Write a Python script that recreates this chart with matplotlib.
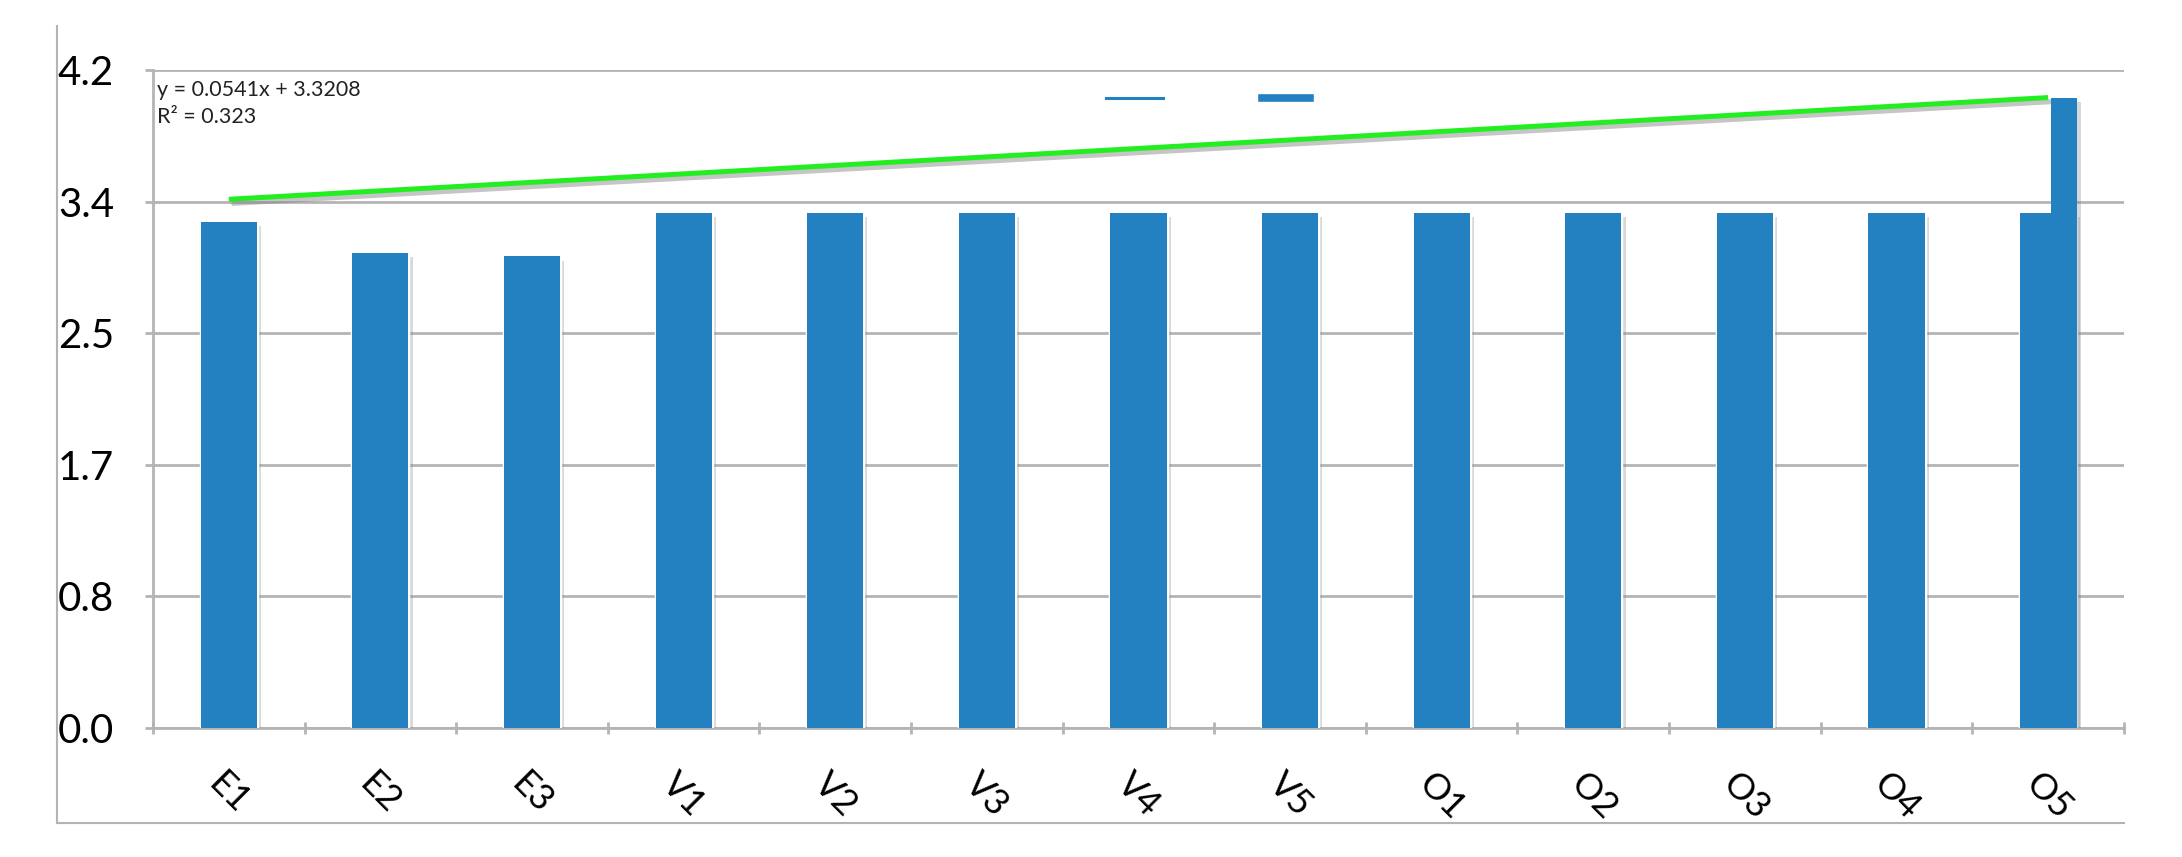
import matplotlib
matplotlib.use("Agg")
import matplotlib.pyplot as plt
import matplotlib.patheffects as pe
from matplotlib.lines import Line2D
from matplotlib.patches import Patch
import numpy as np

plt.rcParams['font.family'] = ['Lato', 'DejaVu Sans']

# datos
categorias = ["E1", "E2", "E3", "V1", "V2", "V3", "V4", "V5", "O1", "O2", "O3", "O4", "O5"]
valores = [3.23, 3.03, 3.01, 3.29, 3.29, 3.29, 3.29, 3.29, 3.29, 3.29, 3.29, 3.29, 3.29]
categorias_b = ["O5"]
valores_b = [4.02]

# linea de tendencia (de la etiqueta del grafico)
pendiente = 0.0541
intercepto = 3.3208
r2 = 0.323

y_ticks = [0.0, 0.84, 1.68, 2.52, 3.36, 4.2]

azul = "#2481C1"
verde = "#22EE22"
gris = "#B4B4B4"

fig = plt.figure(figsize=(21.82, 8.57), dpi=100)
ax = fig.add_axes([0.0701, 0.1505, 0.9033, 0.7678])

x = np.arange(len(categorias))
sombra = [pe.SimplePatchShadow(offset=(3, -3), shadow_rgbFace="gray", alpha=0.3),
          pe.Stroke(linewidth=2.5, foreground="white"), pe.Normal()]

ax.bar(x, valores, width=0.37, color=azul, zorder=3, path_effects=sombra)

xb = [categorias.index(c) + 0.02 for c in categorias_b]
ax.bar(xb, valores_b, width=0.168, align="edge", color=azul, zorder=4,
       path_effects=[pe.SimplePatchShadow(offset=(3, -3), shadow_rgbFace="gray", alpha=0.3),
                     pe.Normal()])

# tendencia
xt = np.array([1, len(categorias)])
yt = pendiente * xt + intercepto
ax.plot(xt - 1, yt, color=verde, lw=3.6, zorder=5, solid_capstyle="butt",
        path_effects=[pe.SimpleLineShadow(offset=(2, -3), shadow_color="gray", alpha=0.45),
                      pe.Normal()])

ax.text(0.002, 0.985, f"y = {pendiente}x + {intercepto}\nR² = {r2}", transform=ax.transAxes,
        ha="left", va="top", fontsize=15.5, linespacing=1.45, color="#222222", zorder=6)

ax.set_xlim(-0.5, len(categorias) - 0.5)
ax.set_ylim(0, 4.2)
ax.set_yticks(y_ticks)
ax.set_yticklabels([f"{v:.1f}" for v in y_ticks], fontsize=29)
ax.yaxis.grid(True, color=gris, lw=2, zorder=0)
ax.tick_params(axis="y", length=6, width=2, color=gris, pad=22)

ax.set_xticks(x)
ax.set_xticklabels(categorias, rotation=-45, fontsize=26)
ax.set_xticks(np.arange(len(categorias) + 1) - 0.5, minor=True)
ax.tick_params(axis="x", which="major", length=0, pad=28)
ax.tick_params(axis="x", which="minor", length=8, width=2, color=gris, direction="inout")

for lado in ["top", "right"]:
    ax.spines[lado].set_visible(False)
for lado in ["left", "bottom"]:
    ax.spines[lado].set_color(gris)
    ax.spines[lado].set_linewidth(2)

# leyenda sin etiquetas
manijas = [Line2D([0], [0], color=azul, lw=2.2), Patch(facecolor=azul, edgecolor="white")]
ax.legend(manijas, ["", ""], ncol=2, loc="upper center", bbox_to_anchor=(0.539, 0.985),
          frameon=False, fontsize=10, handlelength=4.1, handletextpad=0.8, columnspacing=6.0)

# marco exterior
fig.add_artist(Line2D([57 / 2182, 57 / 2182], [1 - 26 / 857, 1 - 823 / 857], color=gris, lw=1.5))
fig.add_artist(Line2D([57 / 2182, 2124 / 2182], [1 - 823 / 857, 1 - 823 / 857], color=gris, lw=1.5))

fig.savefig("out.png", dpi=100)
